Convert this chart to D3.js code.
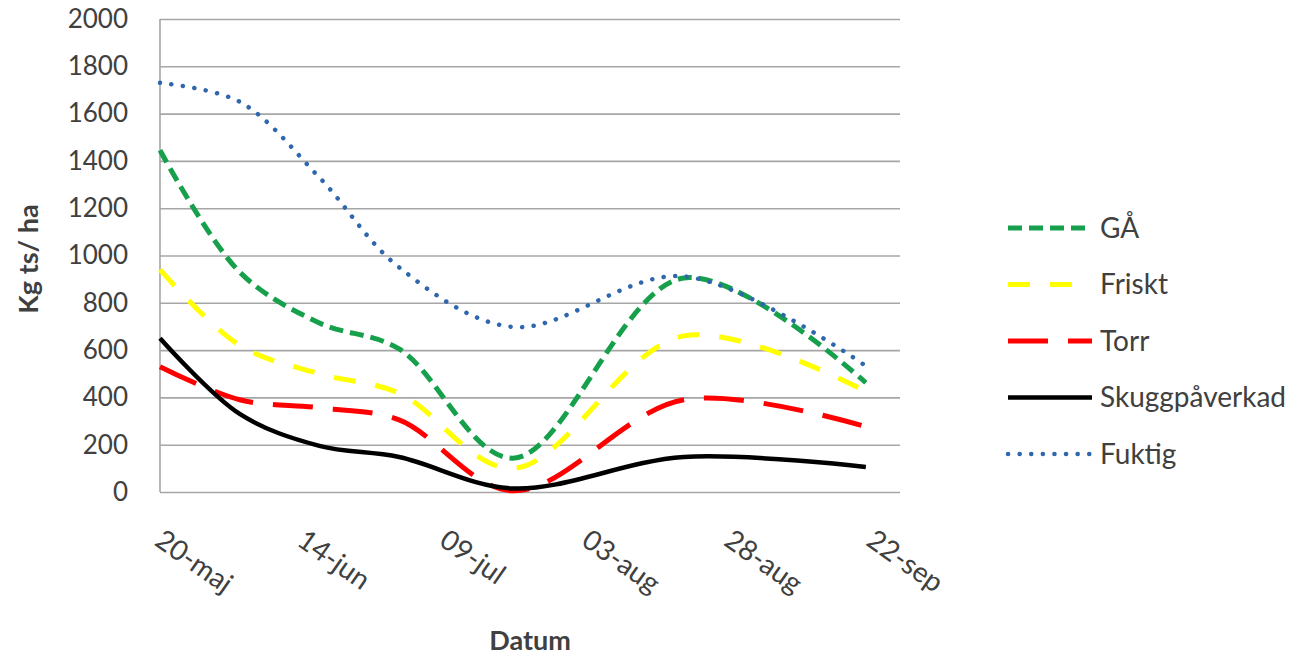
<!DOCTYPE html>
<html>
<head>
<meta charset="utf-8">
<script src="https://cdn.jsdelivr.net/npm/d3@7"></script>
<style>
  body { margin: 0; background: #fff; }
  text { font-family: Lato, "Open Sans", sans-serif; fill: #404040; }
</style>
</head>
<body>
<script>
// sampling dates (same for every series)
const dates = ['2010-05-20', '2010-06-03', '2010-06-17', '2010-07-01', '2010-07-21', '2010-08-20', '2010-09-21'];

const ga = [1445, 930, 715, 605, 143, 905, 462];
const friskt = [940, 620, 500, 418, 100, 660, 425];
const torr = [530, 390, 356, 305, 5, 390, 276];
const skugg = [650, 330, 195, 148, 15, 148, 106];
const fuktig = [1730, 1650, 1330, 950, 698, 912, 533];

const seriesNames = ['GÅ', 'Friskt', 'Torr', 'Skuggpåverkad', 'Fuktig'];
const yTicks = [0, 200, 400, 600, 800, 1000, 1200, 1400, 1600, 1800, 2000];
const xTickDates = ['2010-05-20', '2010-06-14', '2010-07-09', '2010-08-03', '2010-08-28', '2010-09-22'];
const xTickLabels = ['20-maj', '14-jun', '09-jul', '03-aug', '28-aug', '22-sep'];

const config = {
  width: 1301,
  height: 656,
  plot: { left: 160, right: 900, top: 19, bottom: 492 },
  xEnd: '2010-09-27',
};

const styles = [
  { color: '#17a04c', width: 5, dash: '14 7', cap: 'butt' },
  { color: '#ffff00', width: 5, dash: '22 20', cap: 'butt' },
  { color: '#ff0000', width: 5, dash: '40 20', cap: 'butt' },
  { color: '#000000', width: 4.5, dash: null, cap: 'butt' },
  { color: '#2f67ad', width: 4.5, dash: '0.1 11.5', cap: 'round' },
];

const parse = d3.timeParse('%Y-%m-%d');
const values = [ga, friskt, torr, skugg, fuktig];
const series = seriesNames.map((name, i) => ({
  name,
  style: styles[i],
  points: dates.map((d, j) => ({ date: parse(d), value: values[i][j] })),
}));

const svg = d3.select('body').append('svg')
  .attr('width', config.width)
  .attr('height', config.height);

const x = d3.scaleTime()
  .domain([parse(dates[0]), parse(config.xEnd)])
  .range([config.plot.left, config.plot.right]);

const y = d3.scaleLinear()
  .domain([0, 2000])
  .range([config.plot.bottom, config.plot.top]);

// gridlines + y labels
const yAxis = d3.axisLeft(y)
  .tickValues(yTicks)
  .tickFormat(d3.format('d'))
  .tickSize(-(config.plot.right - config.plot.left))
  .tickPadding(32);

const yG = svg.append('g')
  .attr('transform', `translate(${config.plot.left}, 0)`)
  .call(yAxis);
yG.select('.domain').remove();
yG.selectAll('line').attr('stroke', '#a6a6a6').attr('stroke-width', 1.6);
yG.selectAll('text').attr('font-size', 26).attr('fill', '#404040').attr('font-family', 'Lato');

// left axis line
svg.append('line')
  .attr('x1', config.plot.left).attr('x2', config.plot.left)
  .attr('y1', config.plot.top).attr('y2', config.plot.bottom)
  .attr('stroke', '#a6a6a6').attr('stroke-width', 1.6);

// x tick labels, rotated
svg.append('g')
  .selectAll('text')
  .data(xTickDates)
  .enter()
  .append('text')
  .attr('transform', d => `translate(${x(parse(d)) + 6}, 526) rotate(35)`)
  .attr('dy', '0.8em')
  .attr('font-size', 28)
  .text((d, i) => xTickLabels[i]);

// lines
const line = d3.line()
  .x(d => x(d.date))
  .y(d => y(d.value))
  .curve(d3.curveCatmullRom.alpha(0.5));

svg.append('g')
  .selectAll('path')
  .data(series)
  .enter()
  .append('path')
  .attr('d', d => line(d.points))
  .attr('fill', 'none')
  .attr('stroke', d => d.style.color)
  .attr('stroke-width', d => d.style.width)
  .attr('stroke-dasharray', d => d.style.dash)
  .attr('stroke-linecap', d => d.style.cap);

// axis titles
svg.append('text')
  .attr('transform', 'translate(38, 259) rotate(-90)')
  .attr('text-anchor', 'middle')
  .attr('font-size', 27)
  .attr('font-weight', 'bold')
  .attr('fill', '#000')
  .text('Kg ts/ ha');

svg.append('text')
  .attr('x', 530)
  .attr('y', 650)
  .attr('text-anchor', 'middle')
  .attr('font-size', 27)
  .attr('font-weight', 'bold')
  .attr('fill', '#000')
  .text('Datum');

// legend
const legend = svg.append('g')
  .selectAll('g')
  .data(series)
  .enter()
  .append('g')
  .attr('transform', (d, i) => `translate(1008, ${228 + i * 56.5})`);

legend.append('line')
  .attr('x1', 0).attr('x2', 84)
  .attr('stroke', d => d.style.color)
  .attr('stroke-width', d => d.style.width)
  .attr('stroke-dasharray', d => d.style.dash)
  .attr('stroke-linecap', d => d.style.cap);

legend.append('text')
  .attr('x', 92)
  .attr('dy', '0.35em')
  .attr('font-size', 28)
  .text(d => d.name);
</script>
</body>
</html>
